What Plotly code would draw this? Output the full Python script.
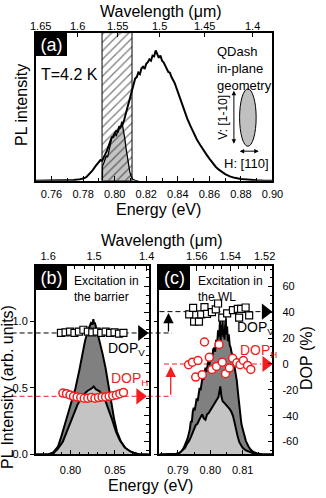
import plotly.graph_objects as go

FONT = "Liberation Sans, Arial, sans-serif"
RED = "#f01e1e"
# energy-wavelength conversion constants (eV*um)
HC_A = 1.2425
HC_B = 1.2398
HC_C = 1.2415

# ---------------- data: panel (a) ----------------
a_energy = [0.750, 0.755, 0.760, 0.765, 0.770, 0.774, 0.777, 0.780, 0.782, 0.784, 0.786, 0.788, 0.789,
            0.790, 0.791, 0.792, 0.793, 0.794, 0.795, 0.796, 0.797, 0.798, 0.799, 0.800, 0.801, 0.802,
            0.803, 0.804, 0.805, 0.806, 0.807, 0.808, 0.809, 0.810, 0.811, 0.812, 0.813, 0.814, 0.815,
            0.816, 0.817, 0.818, 0.819, 0.820, 0.821, 0.822, 0.823, 0.824, 0.825, 0.826, 0.827, 0.828,
            0.829, 0.830, 0.831, 0.832, 0.833, 0.834, 0.835, 0.836, 0.838, 0.840, 0.842, 0.844, 0.846,
            0.848, 0.850, 0.852, 0.854, 0.856, 0.858, 0.860, 0.862, 0.864, 0.866, 0.868, 0.870, 0.873,
            0.876, 0.880, 0.885, 0.890, 0.895, 0.900]
a_pl = [0.0, 0.0, 0.0, 0.002, 0.003, 0.005, 0.008, 0.015, 0.025, 0.045, 0.07, 0.10, 0.115,
        0.13, 0.14, 0.135, 0.155, 0.18, 0.20, 0.23, 0.26, 0.29, 0.30, 0.32, 0.335, 0.33,
        0.36, 0.365, 0.38, 0.41, 0.45, 0.49, 0.54, 0.58, 0.62, 0.66, 0.69, 0.70, 0.73,
        0.72, 0.76, 0.77, 0.755, 0.79, 0.80, 0.82, 0.81, 0.845, 0.84, 0.88, 0.85, 0.83,
        0.845, 0.81, 0.80, 0.775, 0.76, 0.735, 0.73, 0.70, 0.66, 0.60, 0.53, 0.47, 0.42,
        0.37, 0.32, 0.28, 0.245, 0.21, 0.18, 0.15, 0.12, 0.095, 0.075, 0.058, 0.045, 0.03,
        0.02, 0.012, 0.006, 0.003, 0.001, 0.0]
a_filt_energy = [0.7922, 0.7923, 0.7935, 0.7947, 0.7955, 0.7965, 0.7975, 0.7984, 0.7993, 0.8002, 0.8010,
                 0.8020, 0.8028, 0.8035, 0.8045, 0.8052, 0.8058, 0.8065, 0.8072, 0.8080, 0.8088, 0.8096,
                 0.8105, 0.8115, 0.8130, 0.8150]
a_filt_pl = [0.0, 0.10, 0.13, 0.17, 0.16, 0.21, 0.24, 0.30, 0.29, 0.33, 0.30,
             0.34, 0.37, 0.35, 0.40, 0.36, 0.33, 0.28, 0.22, 0.16, 0.10, 0.06,
             0.03, 0.01, 0.003, 0.0]
a_window = [0.792, 0.811]
a_wl_ticks = [1.65, 1.6, 1.55, 1.5, 1.45, 1.4]

# ---------------- data: panel (b) ----------------
b_energy_tot = [0.761, 0.775, 0.7806, 0.786, 0.7893, 0.7947, 0.8001, 0.8056, 0.8099, 0.8132, 0.8164,
                0.8197, 0.8215, 0.8230, 0.8245, 0.8257, 0.8265, 0.8273, 0.8295, 0.8327, 0.8360, 0.8393,
                0.8425, 0.8458, 0.8490, 0.8523, 0.8567, 0.8621, 0.8686, 0.8784, 0.888]
b_pl_tot = [0.0, 0.0, 0.015, 0.059, 0.126, 0.244, 0.370, 0.496, 0.630, 0.741, 0.852,
            0.930, 0.955, 0.985, 0.975, 1.015, 0.980, 0.990, 0.935, 0.852, 0.756, 0.652,
            0.519, 0.385, 0.267, 0.170, 0.096, 0.044, 0.015, 0.0, 0.0]
b_energy_h = [0.761, 0.7751, 0.7806, 0.786, 0.7914, 0.7969, 0.8023, 0.8077, 0.8132, 0.8186, 0.8240,
              0.8262, 0.8284, 0.8327, 0.8382, 0.8425, 0.8469, 0.8512, 0.8556, 0.8610, 0.8675, 0.8762, 0.888]
b_pl_h = [0.0, 0.0, 0.007, 0.044, 0.096, 0.185, 0.281, 0.370, 0.437, 0.474, 0.496,
          0.510, 0.489, 0.474, 0.422, 0.348, 0.259, 0.170, 0.104, 0.052, 0.022, 0.0, 0.0]
b_dopv_energy = [0.7893, 0.7945, 0.7995, 0.8045, 0.8095, 0.8145, 0.8195, 0.8245, 0.8295, 0.8345,
                 0.8395, 0.8445, 0.8495, 0.8545, 0.8595]
b_dopv = [24.0, 24.5, 25.0, 24.0, 25.0, 26.5, 25.0, 24.5, 25.0, 24.0, 25.0, 24.0, 24.5, 23.5, 24.0]
b_doph_energy = [0.7915, 0.7955, 0.7995, 0.8035, 0.8075, 0.8115, 0.8155, 0.8195, 0.8235, 0.8275,
                 0.8315, 0.8355, 0.8395, 0.8435, 0.8475, 0.8515, 0.8555, 0.8595]
b_doph = [-22.5, -23.0, -24.0, -25.0, -25.5, -26.0, -26.5, -26.5, -26.0, -26.5, -26.0, -25.5,
          -25.5, -25.0, -24.5, -24.0, -23.0, -22.0]
b_dop_avg = [24.0, -25.0]
b_wl_ticks = [1.6, 1.5, 1.4]
b_wl_minor = [1.62, 1.58, 1.56, 1.54, 1.52, 1.48, 1.46, 1.44, 1.42, 1.38]

# ---------------- data: panel (c) ----------------
c_energy_tot = [0.7843, 0.7880, 0.7895, 0.7905, 0.7912, 0.7918, 0.7922, 0.7926, 0.7930, 0.7934, 0.7937,
                0.7940, 0.7943, 0.7946, 0.7949, 0.7952, 0.7955, 0.7958, 0.7961, 0.7964, 0.7967, 0.7970,
                0.7973, 0.7976, 0.7979, 0.7982, 0.7985, 0.7988, 0.7991, 0.7994, 0.7997, 0.8000, 0.8003,
                0.8006, 0.8009, 0.8012, 0.8015, 0.8018, 0.8021, 0.8024, 0.8027, 0.8030, 0.8032, 0.8034,
                0.8036, 0.8038, 0.8040, 0.8042, 0.8044, 0.8046, 0.8048, 0.8050, 0.8052, 0.8054, 0.8057,
                0.8060, 0.8063, 0.8066, 0.8069, 0.8072, 0.8078, 0.8082, 0.8086, 0.8089, 0.8092, 0.8096,
                0.8100, 0.8105, 0.8110, 0.8118, 0.8125, 0.8133, 0.8145, 0.8160, 0.8192]
c_pl_tot = [0.0, 0.0, 0.005, 0.012, 0.025, 0.05, 0.07, 0.10, 0.12, 0.16, 0.19,
            0.25, 0.24, 0.32, 0.35, 0.33, 0.40, 0.42, 0.40, 0.47, 0.50, 0.48,
            0.55, 0.58, 0.56, 0.63, 0.65, 0.62, 0.68, 0.70, 0.67, 0.73, 0.75,
            0.72, 0.79, 0.80, 0.77, 0.86, 0.82, 0.93, 0.88, 1.00, 0.85, 0.97,
            0.90, 1.01, 0.88, 0.94, 0.86, 0.98, 1.02, 0.90, 0.96, 0.85, 0.90,
            0.82, 0.80, 0.76, 0.74, 0.70, 0.62, 0.55, 0.45, 0.37, 0.30, 0.23,
            0.19, 0.14, 0.10, 0.06, 0.035, 0.018, 0.007, 0.002, 0.0]
c_energy_h = [0.7843, 0.7890, 0.7905, 0.7915, 0.7922, 0.7928, 0.7934, 0.7940, 0.7945, 0.7950, 0.7955,
              0.7960, 0.7965, 0.7970, 0.7975, 0.7980, 0.7985, 0.7990, 0.7995, 0.8000, 0.8005, 0.8010,
              0.8015, 0.8020, 0.8025, 0.8028, 0.8031, 0.8034, 0.8038, 0.8042, 0.8046, 0.8050, 0.8055,
              0.8060, 0.8065, 0.8070, 0.8075, 0.8080, 0.8085, 0.8090, 0.8095, 0.8100, 0.8110, 0.8120,
              0.8135, 0.8155, 0.8192]
c_pl_h = [0.0, 0.0, 0.01, 0.03, 0.05, 0.08, 0.10, 0.13, 0.16, 0.19, 0.22,
          0.23, 0.26, 0.28, 0.30, 0.27, 0.26, 0.30, 0.31, 0.33, 0.35, 0.36,
          0.39, 0.41, 0.43, 0.47, 0.51, 0.44, 0.40, 0.39, 0.38, 0.37, 0.36,
          0.34, 0.32, 0.29, 0.24, 0.18, 0.13, 0.09, 0.07, 0.05, 0.03, 0.02,
          0.007, 0.0, 0.0]
c_dopv_energy = [0.7935, 0.7947, 0.7950, 0.7965, 0.7972, 0.7982, 0.7990, 0.8005, 0.8017, 0.8024,
                 0.8037, 0.8052, 0.8070, 0.8085, 0.8089, 0.8095, 0.8109, 0.8120]
c_dopv = [38.4, 43.4, 32.7, 32.7, 38.4, 44.0, 38.8, 40.1, 42.2, 46.8,
          35.8, 39.1, 41.7, 42.7, 35.8, 42.7, 43.7, 37.6]
c_doph_energy = [0.7933, 0.7945, 0.7955, 0.7962, 0.7975, 0.7982, 0.7997, 0.8005, 0.8019, 0.8027,
                 0.8037, 0.8047, 0.8059, 0.8069, 0.8082, 0.8092, 0.8102, 0.8115, 0.8125]
c_doph = [-0.6, 1.4, -10.1, 2.7, -8.3, 17.0, 5.2, -4.2, -1.9, 15.0,
          1.4, -7.5, -3.2, 4.4, 0.9, -0.6, 2.7, -1.1, -4.2]
c_dop_avg = [40.5, 0.0]
c_wl_ticks = [1.56, 1.54, 1.52]
c_wl_minor = [1.565, 1.555, 1.55, 1.545, 1.535, 1.53, 1.525, 1.515]

# ---------------- ranges ----------------
a_xr = [0.75, 0.90]
a_yr = [0, 1.0]
b_xr = [0.761, 0.888]
c_xr = [0.7843, 0.8192]
pl_yr = [0, 1.415]
dop_yr = [-70, 76]

W, H = 326, 498


def px(xp):
    return xp / W


def py(yp):
    return 1 - yp / H


dom_a_x = [px(37), px(282)]
dom_a_y = [py(183), py(33)]
dom_b_x = [px(37), px(154)]
dom_c_x = [px(165), px(282)]
dom_bc_y = [py(460), py(269)]

fig = go.Figure()

# ---- panel (a) ----
fig.add_trace(go.Scatter(x=a_filt_energy, y=a_filt_pl, mode="lines", fill="tozeroy",
                         fillcolor="#c4c4c4", line=dict(color="black", width=1.3),
                         xaxis="x", yaxis="y", hoverinfo="skip"))
fig.add_trace(go.Scatter(x=[a_window[0], a_window[0], a_window[1], a_window[1], a_window[0]],
                         y=[a_yr[0], a_yr[1], a_yr[1], a_yr[0], a_yr[0]], mode="lines",
                         fill="toself", fillcolor="rgba(0,0,0,0)",
                         fillpattern=dict(shape="/", fgcolor="black", bgcolor="rgba(0,0,0,0)",
                                          size=6, solidity=0.22),
                         line=dict(color="black", width=1), xaxis="x", yaxis="y", hoverinfo="skip"))
fig.add_trace(go.Scatter(x=a_energy, y=a_pl, mode="lines", line=dict(color="black", width=2),
                         xaxis="x", yaxis="y", hoverinfo="skip"))
fig.add_trace(go.Scatter(x=[None], y=[None], xaxis="x2", yaxis="y", hoverinfo="skip"))

# ---- panel (b) ----
fig.add_trace(go.Scatter(x=b_energy_tot, y=b_pl_tot, mode="lines", fill="tozeroy", fillcolor="#808080",
                         line=dict(color="black", width=2), xaxis="x3", yaxis="y3", hoverinfo="skip"))
fig.add_trace(go.Scatter(x=b_energy_h, y=b_pl_h, mode="lines", fill="tozeroy", fillcolor="#c4c4c4",
                         line=dict(color="black", width=2), xaxis="x3", yaxis="y3", hoverinfo="skip"))
fig.add_trace(go.Scatter(x=[None], y=[None], xaxis="x4", yaxis="y3", hoverinfo="skip"))
fig.add_trace(go.Scatter(x=b_dopv_energy, y=b_dopv, mode="markers",
                         marker=dict(symbol="square", size=7, color="white",
                                     line=dict(color="black", width=1.2)),
                         xaxis="x3", yaxis="y4", hoverinfo="skip"))
fig.add_trace(go.Scatter(x=b_doph_energy, y=b_doph, mode="markers",
                         marker=dict(symbol="circle", size=8, color="white",
                                     line=dict(color=RED, width=1.5)),
                         xaxis="x3", yaxis="y4", hoverinfo="skip"))
fig.add_trace(go.Scatter(x=[b_xr[1] - 0.008, b_xr[1] - 0.010], y=b_dop_avg, mode="markers",
                         marker=dict(symbol="triangle-right", size=14, color=["black", RED]),
                         xaxis="x3", yaxis="y4", cliponaxis=False, hoverinfo="skip"))

# ---- panel (c) ----
fig.add_trace(go.Scatter(x=c_energy_tot, y=c_pl_tot, mode="lines", fill="tozeroy", fillcolor="#808080",
                         line=dict(color="black", width=2), xaxis="x5", yaxis="y5", hoverinfo="skip"))
fig.add_trace(go.Scatter(x=c_energy_h, y=c_pl_h, mode="lines", fill="tozeroy", fillcolor="#c4c4c4",
                         line=dict(color="black", width=2), xaxis="x5", yaxis="y5", hoverinfo="skip"))
fig.add_trace(go.Scatter(x=[None], y=[None], xaxis="x6", yaxis="y5", hoverinfo="skip"))
fig.add_trace(go.Scatter(x=c_dopv_energy, y=c_dopv, mode="markers",
                         marker=dict(symbol="square", size=7, color="white",
                                     line=dict(color="black", width=1.2)),
                         xaxis="x5", yaxis="y6", hoverinfo="skip"))
fig.add_trace(go.Scatter(x=c_doph_energy, y=c_doph, mode="markers",
                         marker=dict(symbol="circle", size=8, color="white",
                                     line=dict(color=RED, width=1.5)),
                         xaxis="x5", yaxis="y6", hoverinfo="skip"))
fig.add_trace(go.Scatter(x=[c_xr[1] - 0.0022, c_xr[1] - 0.0020], y=c_dop_avg, mode="markers",
                         marker=dict(symbol="triangle-right", size=14, color=["black", RED]),
                         xaxis="x5", yaxis="y6", cliponaxis=False, hoverinfo="skip"))

tickfont = dict(size=11, family=FONT, color="black")
base = dict(showline=True, linecolor="black", linewidth=1.5, showgrid=False, zeroline=False,
            tickfont=tickfont, ticklen=5, tickwidth=1, tickcolor="black")


def wl_axis(overlay, anchor, xr, ticks, minor, hc, labels=True):
    return dict(base, overlaying=overlay, anchor=anchor, side="top", range=xr, ticks="inside",
                tickmode="array", tickvals=[hc / w for w in ticks], ticktext=[f"{w:g}" for w in ticks],
                showticklabels=labels,
                minor=dict(ticks="inside", ticklen=3, tickcolor="black", tickmode="array",
                           tickvals=[hc / w for w in minor]))


fig.update_layout(
    width=W, height=H, margin=dict(l=0, r=0, t=0, b=0), showlegend=False,
    paper_bgcolor="white", plot_bgcolor="rgba(0,0,0,0)",
    font=dict(family=FONT, color="black"),
    xaxis=dict(base, domain=dom_a_x, range=a_xr, anchor="y", ticks="inside", tick0=0.76, dtick=0.02,
               tickformat=".2f", ticklabelstandoff=2,
               minor=dict(ticks="inside", ticklen=3, tickcolor="black", dtick=0.01, tick0=0.75)),
    xaxis2=wl_axis("x", "y", a_xr, a_wl_ticks, [], HC_A, labels=False),
    yaxis=dict(base, domain=dom_a_y, range=a_yr, anchor="x", showticklabels=False, ticks="",
               mirror=True),
    xaxis3=dict(base, domain=dom_b_x, range=b_xr, anchor="y3", ticks="inside", tick0=0.80, dtick=0.05,
                tickformat=".2f", ticklabelstandoff=5,
                minor=dict(ticks="inside", ticklen=3, tickcolor="black", dtick=0.01, tick0=0.80)),
    xaxis4=wl_axis("x3", "y3", b_xr, b_wl_ticks, b_wl_minor, HC_B),
    yaxis3=dict(base, domain=dom_bc_y, range=pl_yr, anchor="x3", ticks="outside", ticklen=4,
                tickmode="array", tickvals=[0, 0.5, 1.0], ticktext=["0.0", "0.5", "1.0"],
                ticklabelstandoff=0),
    yaxis4=dict(base, overlaying="y3", anchor="x3", side="right", range=dop_yr, ticks="inside",
                tickmode="array", tickvals=[-60, -40, -20, 0, 20, 40, 60], showticklabels=False,
                minor=dict(ticks="inside", ticklen=3, tickcolor="black", dtick=20 / 3, tick0=0)),
    xaxis5=dict(base, domain=dom_c_x, range=c_xr, anchor="y5", ticks="inside", tick0=0.79, dtick=0.01,
                tickformat=".2f", ticklabelstandoff=5,
                minor=dict(ticks="inside", ticklen=3, tickcolor="black", dtick=0.005, tick0=0.79)),
    xaxis6=wl_axis("x5", "y5", c_xr, c_wl_ticks, c_wl_minor, HC_C),
    yaxis5=dict(base, domain=dom_bc_y, range=pl_yr, anchor="x5", ticks="outside", ticklen=4,
                tickmode="array", tickvals=[0, 0.5, 1.0], showticklabels=False),
    yaxis6=dict(base, overlaying="y5", anchor="x5", side="right", range=dop_yr, ticks="inside",
                tickmode="array", tickvals=[-60, -40, -20, 0, 20, 40, 60],
                ticktext=[str(v) for v in [-60, -40, -20, 0, 20, 40, 60]], ticklabelstandoff=6,
                minor=dict(ticks="inside", ticklen=3, tickcolor="black", dtick=20 / 3, tick0=0)),
)

shapes = []
ann = []


def box_label(xref, yref, w, h, text):
    ann.append(dict(text=text, xref=xref, yref=yref, x=0, y=1, xanchor="left", yanchor="top",
                    width=w, height=h, bgcolor="black", borderpad=0, borderwidth=0, showarrow=False,
                    align="center", valign="middle", font=dict(size=18, color="white", family=FONT)))


box_label("x domain", "y domain", 31, 23, "(a)")
box_label("x3 domain", "y3 domain", 31, 24, "(b)")
box_label("x5 domain", "y5 domain", 31, 24, "(c)")

# top wavelength tick labels of panel (a), placed at the wavelength positions on the energy axis
for w in a_wl_ticks:
    ann.append(dict(text=f"{w:g}", xref="x", yref="paper", x=HC_A / w, y=py(26), showarrow=False,
                    xanchor="center", yanchor="middle", font=dict(size=11, color="black", family=FONT)))

# inset ellipse (QDash)
shapes.append(dict(type="circle", xref="x domain", yref="y domain", x0=0.861, x1=0.931, y0=0.233, y1=0.62,
                   fillcolor="#c0c0c0", line=dict(color="black", width=1)))

# dashed DOP reference lines
for val, col in zip(b_dop_avg, ["black", RED]):
    shapes.append(dict(type="line", xref="paper", x0=px(12), x1=px(178), yref="y4", y0=val, y1=val,
                       line=dict(color=col, width=1, dash="5px,3px"), layer="below"))
for val, col, x0 in zip(c_dop_avg, ["black", RED], [0.0, 0.04]):
    shapes.append(dict(type="line", xref="x5 domain", x0=x0, x1=0.9, yref="y6", y0=val, y1=val,
                       line=dict(color=col, width=1, dash="5px,3px"), layer="below"))

# arrows showing DOP shift
c_span = c_xr[1] - c_xr[0]
for frac, y_from, y_to, col in [(0.08, b_dop_avg[0], c_dop_avg[0] - 1, "black"),
                                (0.10, b_dop_avg[1], c_dop_avg[1] - 2, RED)]:
    xa = c_xr[0] + frac * c_span
    ann.append(dict(text="", xref="x5", yref="y6", x=xa, y=y_to, axref="x5", ayref="y6", ax=xa, ay=y_from,
                    showarrow=True, arrowhead=2, arrowsize=1.6, arrowwidth=1.3, arrowcolor=col, standoff=0))

# inset double arrows
ann.append(dict(text="", xref="x domain", yref="y domain", x=0.837, y=0.607, axref="x domain",
                ayref="y domain", ax=0.837, ay=0.24, showarrow=True, arrowhead=2, arrowside="end+start",
                arrowsize=0.9, arrowwidth=1, arrowcolor="black"))
ann.append(dict(text="", xref="x domain", yref="y domain", x=0.942, y=0.2, axref="x domain",
                ayref="y domain", ax=0.855, ay=0.2, showarrow=True, arrowhead=2, arrowside="end+start",
                arrowsize=0.9, arrowwidth=1, arrowcolor="black"))


def txt(text, x, y, size, xref="paper", yref="paper", xanchor="center", yanchor="middle", angle=0,
        color="black", align="center"):
    ann.append(dict(text=text, x=x, y=y, xref=xref, yref=yref, xanchor=xanchor, yanchor=yanchor,
                    textangle=angle, showarrow=False, align=align,
                    font=dict(size=size, color=color, family=FONT)))


# axis titles
txt("Wavelength (\u03bcm)", px(167), py(12), 16)
txt("Energy (eV)", px(164), py(212), 16)
txt("PL intensity", px(22), py(106), 16, angle=-90)
txt("Wavelength (\u03bcm)", px(168), py(243), 16)
txt("Energy (eV)", px(156), py(491), 16)
txt("PL Intensity (arb. units)", px(8), py(392), 16, angle=-90)
txt("DOP (%)", px(317), py(362), 16, angle=-90)

# panel (a) texts
txt("T=4.2 K", 3 / 245, (183 - 75) / 150, 16, "x domain", "y domain", xanchor="left")
txt("QDash<br>in-plane<br>geometry", (223 - 37) / 245, (183 - 43) / 150, 13, "x domain", "y domain",
    xanchor="left", yanchor="top", align="left")
txt("V: [1-10]", (230 - 37) / 245, (183 - 119) / 150, 12, "x domain", "y domain", angle=-90)
txt("H: [110]", (255 - 37) / 245, (183 - 165) / 150, 13, "x domain", "y domain")

# panel (b), (c) texts
txt("Excitation in<br>the barrier", (74 - 37) / 117, (460 - 275) / 191, 12, "x3 domain", "y3 domain",
    xanchor="left", yanchor="top", align="left")
txt("Excitation in<br>the WL", (203 - 165) / 117, (460 - 275) / 191, 12, "x5 domain", "y5 domain",
    xanchor="left", yanchor="top", align="left")
txt("DOP<sub>V</sub>", (110 - 37) / 117, (460 - 353) / 191, 14, "x3 domain", "y3 domain", xanchor="left")
txt("DOP<sub>H</sub>", (113 - 37) / 117, (460 - 384) / 191, 14, "x3 domain", "y3 domain", xanchor="left",
    color=RED)
txt("DOP<sub>V</sub>", (243 - 165) / 117, (460 - 332) / 191, 14, "x5 domain", "y5 domain", xanchor="left")
txt("DOP<sub>H</sub>", (246 - 165) / 117, (460 - 355) / 191, 14, "x5 domain", "y5 domain", xanchor="left",
    color=RED)

fig.update_layout(shapes=shapes, annotations=ann)
fig.write_html("out.html")
